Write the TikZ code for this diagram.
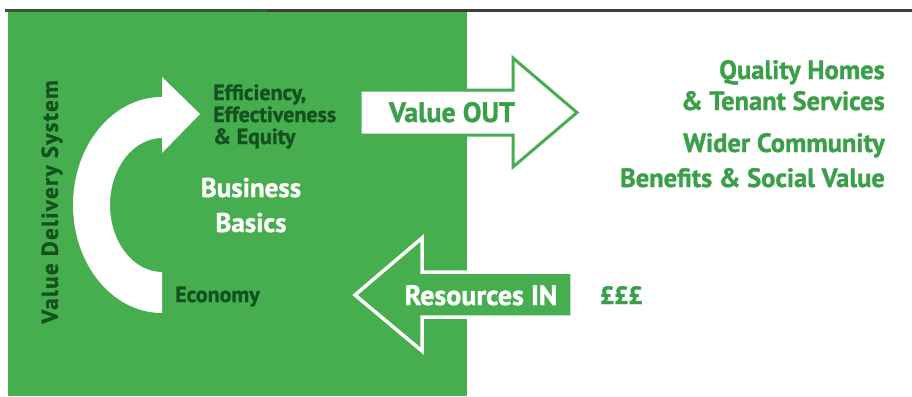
\documentclass[tikz,border=0pt]{standalone}
\usepackage{fontspec}
\setmainfont{PT Sans}[BoldFeatures={FakeBold=1.2}]
\definecolor{bg}{HTML}{46AE4E}
\definecolor{darktxt}{HTML}{13521F}
\definecolor{lgtxt}{HTML}{3A9F48}
\definecolor{topgreen}{HTML}{2F5E33}
\definecolor{topgray}{HTML}{3C3C3C}
\tikzset{
  dk/.style={text=darktxt, font=\bfseries\fontsize{22}{24}\selectfont, inner sep=0pt},
  rt/.style={text=lgtxt, font=\bfseries\fontsize{26.5}{28}\selectfont, inner sep=0pt, anchor=base east},
  big/.style={font=\bfseries\fontsize{28}{30}\selectfont, inner sep=0pt},
  wh/.style={text=white, font=\bfseries\fontsize{27}{29}\selectfont, inner sep=0pt, anchor=base},
}
\begin{document}
\begin{tikzpicture}[x=1pt,y=-1pt]
\useasboundingbox (0,0) rectangle (912,396);
\fill[bg] (8,12) rectangle (467,396);
\draw[line width=3pt, topgreen] (5,10.5) -- (267,10.5);
\draw[line width=3pt, topgray] (267,10.5) -- (912,10.5);
% curved arrow
\fill[white] (162,313) arc[start angle=90,end angle=270,x radius=89,y radius=108]
  -- (162,77) -- (200,114) -- (162,153) -- (162,138)
  arc[start angle=270,end angle=90,x radius=52,y radius=67] -- cycle;
% Value OUT arrow
\draw[line width=3pt, draw=bg, fill=white, line join=miter]
  (360,90) -- (513,90) -- (513,58) -- (577,112.5) -- (513,167) -- (513,135) -- (360,135) -- cycle;
% Resources IN arrow
\draw[line width=3.5pt, draw=white, fill=bg, line join=miter]
  (572,272) -- (422,272) -- (422,238) -- (355,295) -- (422,351) -- (422,317) -- (572,317) -- cycle;
% texts
\node[big, text=lgtxt, anchor=base] (vout) at (452,122) {Value OUT};
\node[big, text=white, anchor=base] (rin) at (481,305) {Resources IN};
\node[text=lgtxt, font=\bfseries\fontsize{25}{27}\selectfont, inner sep=0pt, anchor=base west] (gbp) at (600,304) {£££};
\node[rt] (q1) at (885,79) {Quality Homes};
\node[rt] (q2) at (885,110) {\& Tenant Services};
\node[rt] (w1) at (885,152) {Wider Community};
\node[rt] (w2) at (885,187) {Benefits \& Social Value};
\node[dk, anchor=base west] (e1) at (213,100) {Efficiency,};
\node[dk, anchor=base west] (e2) at (213,122) {Effectiveness};
\node[dk, anchor=base west] (e3) at (213,144) {\& Equity};
\node[dk, anchor=base west] (eco) at (175,302) {Economy};
\node[wh] (b1) at (251,197) {Business};
\node[wh] (b2) at (251,232) {Basics};
\node[text=darktxt, font=\bfseries\fontsize{23}{25}\selectfont\addfontfeature{LetterSpace=6}, inner sep=0pt, rotate=90, anchor=center] (vds) at (52,202) {Value Delivery System};
\end{tikzpicture}
\end{document}
